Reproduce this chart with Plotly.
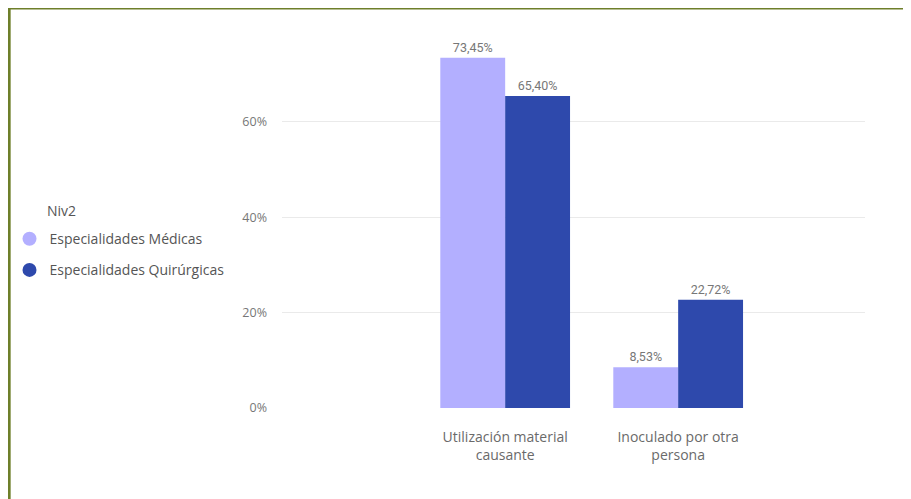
import plotly.graph_objects as go

categories = ["Utilización material<br>causante", "Inoculado por otra<br>persona"]
series_names = ["Especialidades Médicas", "Especialidades Quirúrgicas"]
medicas = [73.45, 8.53]
quirurgicas = [65.40, 22.72]
colors = ["#B3AFFF", "#2E49AC"]
y_ticks = [0, 20, 40, 60]
y_tick_text = ["0%", "20%", "40%", "60%"]
legend_title = "Niv2"

fig = go.Figure()
for name, vals, col in zip(series_names, [medicas, quirurgicas], colors):
    fig.add_trace(go.Bar(
        x=categories, y=vals, name=name, marker_color=col,
        marker_line_width=0,
        texttemplate="%{y:.2f}%", textposition="outside",
        textfont=dict(color="#777777", size=12.5, family="Roboto"),
        cliponaxis=False, showlegend=False,
    ))
for i, (name, col) in enumerate(zip(series_names, colors)):
    fig.add_trace(go.Scatter(
        x=[None], y=[None], mode="markers", name=name,
        marker=dict(color=col, size=14, symbol="circle"),
        legendgroup=f"g{i}",
    ))

fig.update_layout(
    width=911, height=499,
    margin=dict(l=274, r=54, t=28, b=99, autoexpand=False),
    paper_bgcolor="white", plot_bgcolor="white",
    separators=",.",
    barmode="group", bargap=0.25, bargroupgap=0,
    font=dict(family="Open Sans", color="#666666", size=12),
    xaxis=dict(range=[-1.29, 2.08], showgrid=False, showline=False, ticks="",
               tickfont=dict(size=14, color="#6A6A6A"), ticklabelstandoff=19),
    yaxis=dict(range=[0, 78], tickvals=y_ticks, ticktext=y_tick_text,
               showline=False, gridcolor="#EAEAEA", gridwidth=1, zeroline=False,
               tickfont=dict(size=12.5, color="#777777"), ticklabelstandoff=14),
    legend=dict(x=-0.4674, y=0.497, xanchor="left", yanchor="top",
                font=dict(size=14, color="#555555"), bgcolor="rgba(0,0,0,0)",
                tracegroupgap=10, itemwidth=30),
    annotations=[dict(text=legend_title, xref="paper", yref="paper",
                      x=-0.4065, y=0.5296, xanchor="left", yanchor="middle",
                      showarrow=False, font=dict(size=14, color="#555555"))],
    shapes=[dict(type="rect", xref="paper", yref="paper",
                 x0=-0.468, x1=1.2, y0=-0.4, y1=1.075,
                 line=dict(color="#6E7F2A", width=3))],
)
fig.write_html("out.html")
